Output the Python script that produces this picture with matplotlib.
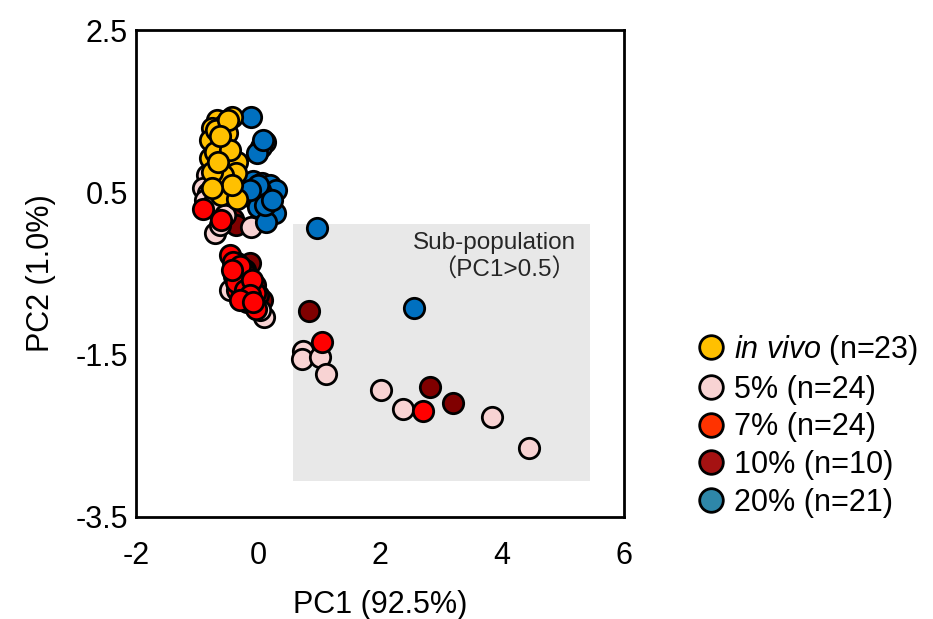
import matplotlib
matplotlib.use("Agg")
import matplotlib.pyplot as plt
from matplotlib.lines import Line2D
from matplotlib.patches import Rectangle

plt.rcParams['font.family'] = ['Liberation Sans', 'Noto Sans CJK JP', 'DejaVu Sans']
plt.rcParams['mathtext.fontset'] = 'custom'
plt.rcParams['mathtext.rm'] = 'Liberation Sans'
plt.rcParams['mathtext.it'] = 'Liberation Sans:italic'
plt.rcParams['axes.unicode_minus'] = False

# PCA scores per culture condition
invivo_pc1 = [-0.43, -0.67, -0.75, -0.56, -0.79, -0.51, -0.59, -0.79, -0.59, -0.34,
              -0.36, -0.57, -0.75, -0.61, -0.34, -0.69, -0.49, -0.70, -0.46, -0.66,
              -0.43, -0.75, -0.62]
invivo_pc2 = [1.43, 1.39, 1.29, 1.33, 1.15, 1.23, 1.08, 0.92, 0.96, 0.87,
              0.74, 0.71, 0.75, 0.47, 0.42, 1.27, 1.39, 1.00, 1.02, 0.87,
              0.59, 0.55, 1.20]

p5_pc1 = [-0.84, -0.90, -0.82, -0.67, -0.71, -0.12, 0.10, -0.87, -0.75, -0.62,
          -0.30, -0.13, -0.21, -0.46, -0.54, 0.03,
          0.74, 0.72, 1.01, 1.11, 2.01, 2.37, 3.84, 4.44]
p5_pc2 = [0.71, 0.55, 0.49, 0.28, 0.00, 0.07, -1.04, 0.41, 0.34, 0.10,
          -0.43, -0.83, -0.61, -0.70, 0.22, -0.95,
          -1.46, -1.55, -1.53, -1.74, -1.94, -2.17, -2.27, -2.65]

p7_pc1 = [-0.90, -0.61, -0.46, -0.34, -0.25, -0.20, -0.39, -0.13, -0.34, -0.26,
          -0.05, -0.18, -0.03, -0.41, -0.30, -0.36, -0.21, -0.10, -0.43, -0.13,
          -0.30, -0.08, 1.05, 2.70]
p7_pc2 = [0.30, 0.16, -0.27, -0.37, -0.46, -0.52, -0.53, -0.64, -0.70, -0.78,
          -0.74, -0.85, -0.94, -0.36, -0.41, -0.60, -0.70, -0.58, -0.46, -0.77,
          -0.83, -0.85, -1.34, -2.19]

p10_pc1 = [-0.41, -0.13, 0.07, -0.21, -0.05, 0.00, -0.36, 0.83, 2.82, 3.20]
p10_pc2 = [0.17, -0.37, -0.83, -0.46, -0.64, -0.77, 0.10, -0.96, -1.90, -2.09]

p20_pc1 = [-0.12, 0.12, 0.05, -0.02, -0.08, 0.07, 0.20, 0.30, -0.10, 0.16,
           0.00, 0.28, 0.13, 0.03, 0.12, 0.00, 0.08, 0.23, -0.13, 0.96, 2.55]
p20_pc2 = [1.43, 1.12, 1.06, 0.99, 0.64, 0.62, 0.59, 0.53, 0.44, 0.42,
           0.32, 0.25, 0.14, 0.53, 0.34, 0.59, 1.14, 0.41, 0.53, 0.06, -0.93]

series = [
    # (pc1, pc2, point colour, legend colour, label, zorder)
    (p10_pc1, p10_pc2, '#800000', '#A51212', '10% (n=10)', 3),
    (p5_pc1, p5_pc2, '#F8D3D3', '#F8D3D3', '5% (n=24)', 4),
    (p7_pc1, p7_pc2, '#FF0000', '#FF3300', '7% (n=24)', 5),
    (p20_pc1, p20_pc2, '#0070C0', '#2E87A9', '20% (n=21)', 6),
    (invivo_pc1, invivo_pc2, '#FFC000', '#FFC000', r'$\it{in\ vivo}$ (n=23)', 7),
]
legend_order = [4, 1, 2, 0, 3]

fig = plt.figure(figsize=(9.33, 6.19), dpi=100)
ax = fig.add_axes([0.1458, 0.1648, 0.5230, 0.7867])

# shaded sub-population region
ax.add_patch(Rectangle((0.58, -3.06), 4.87, 3.17, facecolor='#E8E8E8',
                       edgecolor='none', zorder=1))
ax.text(2.54, -0.12, 'Sub-population', fontsize=17.5, color='#262626',
        ha='left', va='center', zorder=2)
ax.text(2.86, -0.46, '\uff08PC1>0.5\uff09', fontsize=17.5, color='#262626',
        ha='left', va='center', zorder=2)

for x, y, c, lc, lab, z in series:
    ax.scatter(x, y, s=215, c=c, edgecolors='black', linewidths=2, zorder=z)

ax.set_xlim(-2, 6)
ax.set_ylim(-3.5, 2.5)
ax.set_xticks([-2, 0, 2, 4, 6])
ax.set_yticks([2.5, 0.5, -1.5, -3.5])
ax.set_yticklabels(['2.5', '0.5', '-1.5', '-3.5'])
ax.tick_params(length=0, labelsize=22)
ax.tick_params(axis='x', pad=17)
ax.tick_params(axis='y', pad=6)
for sp in ax.spines.values():
    sp.set_linewidth(2)
ax.set_xlabel('PC1 (92.5%)', fontsize=22, labelpad=14)
ax.set_ylabel('PC2 (1.0%)', fontsize=22, labelpad=14)

handles = []
for i in legend_order:
    x, y, c, lc, lab, z = series[i]
    handles.append(Line2D([], [], linestyle='none', marker='o', markersize=17,
                          markerfacecolor=lc, markeredgecolor='black',
                          markeredgewidth=2, label=lab))
fig.legend(handles=handles, loc='center left', bbox_to_anchor=(0.733, 0.313),
           frameon=False, fontsize=22, handletextpad=0.25, labelspacing=0.25,
           handlelength=1.0, borderaxespad=0)

fig.savefig('out.png', dpi=100)
